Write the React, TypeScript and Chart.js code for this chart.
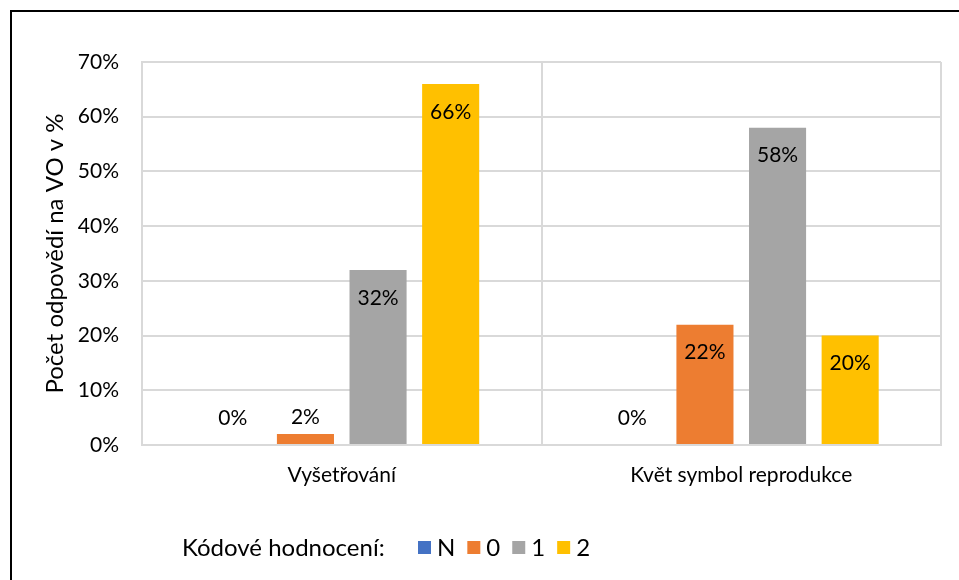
import React, { useEffect, useRef } from "react";
import { Chart, registerables } from "chart.js";

Chart.register(...registerables);

const categories = ["Vyšetřování", "Květ symbol reprodukce"];
const seriesNames = ["N", "0", "1", "2"];
const seriesN = [0, 0];
const series0 = [2, 22];
const series1 = [32, 58];
const series2 = [66, 20];
const seriesColors = ["#4472C4", "#ED7D31", "#A5A5A5", "#FFC000"];
const yTicks = [0, 10, 20, 30, 40, 50, 60, 70];
const yTitle = "Počet odpovědí na VO v %";
const legendTitle = "Kódové hodnocení:";

const FONT = "Lato, 'Open Sans', sans-serif";
const FS = 21;
const FS_BIG = 24;

const dataLabelPlugin = {
  id: "dataLabels",
  afterDatasetsDraw(chart: any) {
    const ctx = chart.ctx;
    ctx.save();
    ctx.font = `${FS}px ${FONT}`;
    ctx.fillStyle = "#000";
    ctx.textAlign = "center";
    ctx.textBaseline = "middle";
    chart.data.datasets.forEach((ds: any, i: number) => {
      const meta = chart.getDatasetMeta(i);
      meta.data.forEach((bar: any, j: number) => {
        const v = ds.data[j];
        const y = Math.min(bar.y + 28, bar.base - 27);
        ctx.fillText(`${v}%`, bar.x, y);
      });
    });
    ctx.restore();
  },
};

const legendPlugin = {
  id: "customLegend",
  afterDraw(chart: any) {
    const ctx = chart.ctx;
    ctx.save();
    ctx.font = `${FS_BIG}px ${FONT}`;
    ctx.fillStyle = "#000";
    ctx.textAlign = "left";
    ctx.textBaseline = "middle";
    const cy = 548;
    ctx.fillText(legendTitle, 182, cy);
    let x = 418;
    chart.data.datasets.forEach((ds: any) => {
      ctx.fillStyle = ds.backgroundColor;
      ctx.fillRect(x, cy - 7, 13, 13);
      ctx.fillStyle = "#000";
      ctx.fillText(ds.label, x + 19, cy);
      const w = ctx.measureText(ds.label).width;
      x += 19 + w + 12;
    });
    ctx.restore();
  },
};

export default function App() {
  const ref = useRef<HTMLCanvasElement | null>(null);
  useEffect(() => {
    if (!ref.current) return;
    const allSeries = [seriesN, series0, series1, series2];
    const chart = new Chart(ref.current, {
      type: "bar",
      data: {
        labels: categories,
        datasets: allSeries.map((d, i) => ({
          label: seriesNames[i],
          data: d,
          backgroundColor: seriesColors[i],
          borderWidth: 0,
          categoryPercentage: 0.727,
          barPercentage: 0.786,
        })),
      },
      options: {
        responsive: false,
        animation: false,
        layout: { padding: { left: 0, right: 18, top: 62, bottom: 0 } },
        plugins: {
          legend: { display: false },
          tooltip: { enabled: false },
        },
        scales: {
          x: {
            grid: { color: "#d9d9d9", lineWidth: 2, drawTicks: false, offset: true },
            border: { color: "#d9d9d9", width: 2 },
            ticks: {
              color: "#000",
              font: { family: FONT, size: FS },
              padding: 18,
              maxRotation: 0,
            },
            afterFit: (s: any) => {
              s.height = 135;
            },
          },
          y: {
            min: 0,
            max: 70,
            grid: { color: "#d9d9d9", lineWidth: 2, drawTicks: false },
            border: { color: "#d9d9d9", width: 2 },
            afterBuildTicks: (s: any) => {
              s.ticks = yTicks.map((v) => ({ value: v }));
            },
            ticks: {
              color: "#000",
              font: { family: FONT, size: FS },
              padding: 23,
              callback: (v: any) => `${v}%`,
            },
            title: {
              display: true,
              text: yTitle,
              color: "#000",
              font: { family: FONT, size: FS_BIG },
              padding: { top: 41, bottom: 0 },
            },
            afterFit: (s: any) => {
              s.width = 142;
            },
          },
        },
      },
      plugins: [dataLabelPlugin, legendPlugin],
    });
    return () => chart.destroy();
  }, []);

  return (
    <div style={{ position: "fixed", left: 0, top: 0, width: 959, height: 580, background: "#fff", overflow: "hidden" }}>
      <div
        style={{
          position: "absolute",
          left: 10,
          top: 10,
          width: 1200,
          height: 1200,
          borderLeft: "2px solid #000",
          borderTop: "2px solid #000",
        }}
      />
      <canvas ref={ref} width={959} height={580} style={{ position: "absolute", left: 0, top: 0 }} />
    </div>
  );
}
